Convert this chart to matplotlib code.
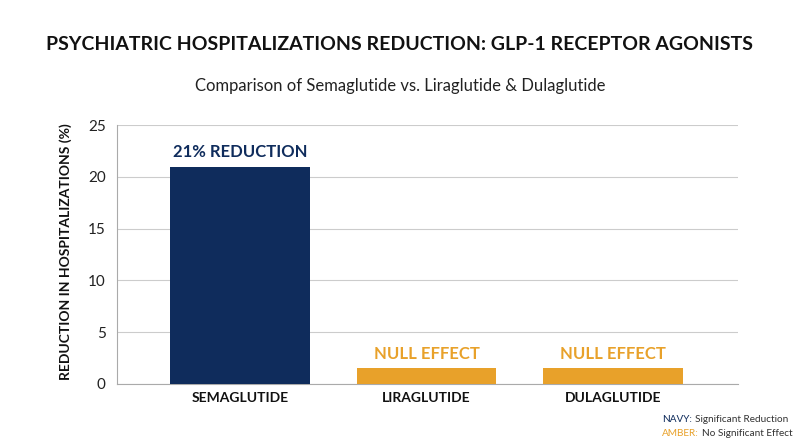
import matplotlib
matplotlib.use("Agg")
import matplotlib.pyplot as plt

categories = ["SEMAGLUTIDE", "LIRAGLUTIDE", "DULAGLUTIDE"]
values = [21.0, 1.5, 1.5]
bar_labels = ["21% REDUCTION", "NULL EFFECT", "NULL EFFECT"]
yticks = [0, 5, 10, 15, 20, 25]

NAVY = "#0f2c5c"
AMBER = "#e8a12a"
colors = [NAVY, AMBER, AMBER]

plt.rcParams['font.family'] = ['Lato', 'DejaVu Sans']

fig = plt.figure(figsize=(8, 4.47), dpi=100)
ax = fig.add_axes([0.146, 0.141, 0.7765, 0.579])

x = list(range(len(categories)))
ax.bar(x, values, width=0.75, color=colors, zorder=3)
for xi, v, lab, c in zip(x, values, bar_labels, colors):
    ax.text(xi, v + 0.65, lab, ha="center", va="bottom", fontsize=12,
            fontweight="bold", color=c)

ax.set_xlim(-0.66, 2.67)
ax.set_ylim(0, 25)
ax.set_yticks(yticks)
ax.set_xticks(x)
ax.set_xticklabels(categories, fontsize=10, fontweight="bold", color="#111111")
ax.tick_params(axis="y", labelsize=11, colors="#222222", length=0, pad=8)
ax.tick_params(axis="x", length=0, pad=6)
ax.grid(axis="y", color="#cccccc", linewidth=0.8, zorder=0)
for s in ["top", "right"]:
    ax.spines[s].set_visible(False)
for s in ["left", "bottom"]:
    ax.spines[s].set_color("#aaaaaa")
    ax.spines[s].set_linewidth(0.8)

ax.set_ylabel("REDUCTION IN HOSPITALIZATIONS (%)", fontsize=10, fontweight="bold",
              color="#111111")
ax.yaxis.set_label_coords(-0.072, 0.51)

fig.text(0.5, 0.9, "PSYCHIATRIC HOSPITALIZATIONS REDUCTION: GLP-1 RECEPTOR AGONISTS",
         ha="center", va="center", fontsize=14, fontweight="bold", color="#111111")
fig.text(0.5, 0.807, "Comparison of Semaglutide vs. Liraglutide & Dulaglutide",
         ha="center", va="center", fontsize=12, color="#222222")


def legend_line(y, key, rest, keycolor):
    a = fig.text(0.8275, y, key, ha="left", va="center", fontsize=7.2, color=keycolor)
    ax.annotate(rest, xy=(1, 0.5), xycoords=a, xytext=(2, 0), textcoords="offset points",
                ha="left", va="center", fontsize=7.2, color="#333333",
                annotation_clip=False)


legend_line(0.061, "NAVY:", "Significant Reduction", NAVY)
legend_line(0.031, "AMBER:", "No Significant Effect", AMBER)

fig.savefig("out.png", dpi=100, facecolor="white")
